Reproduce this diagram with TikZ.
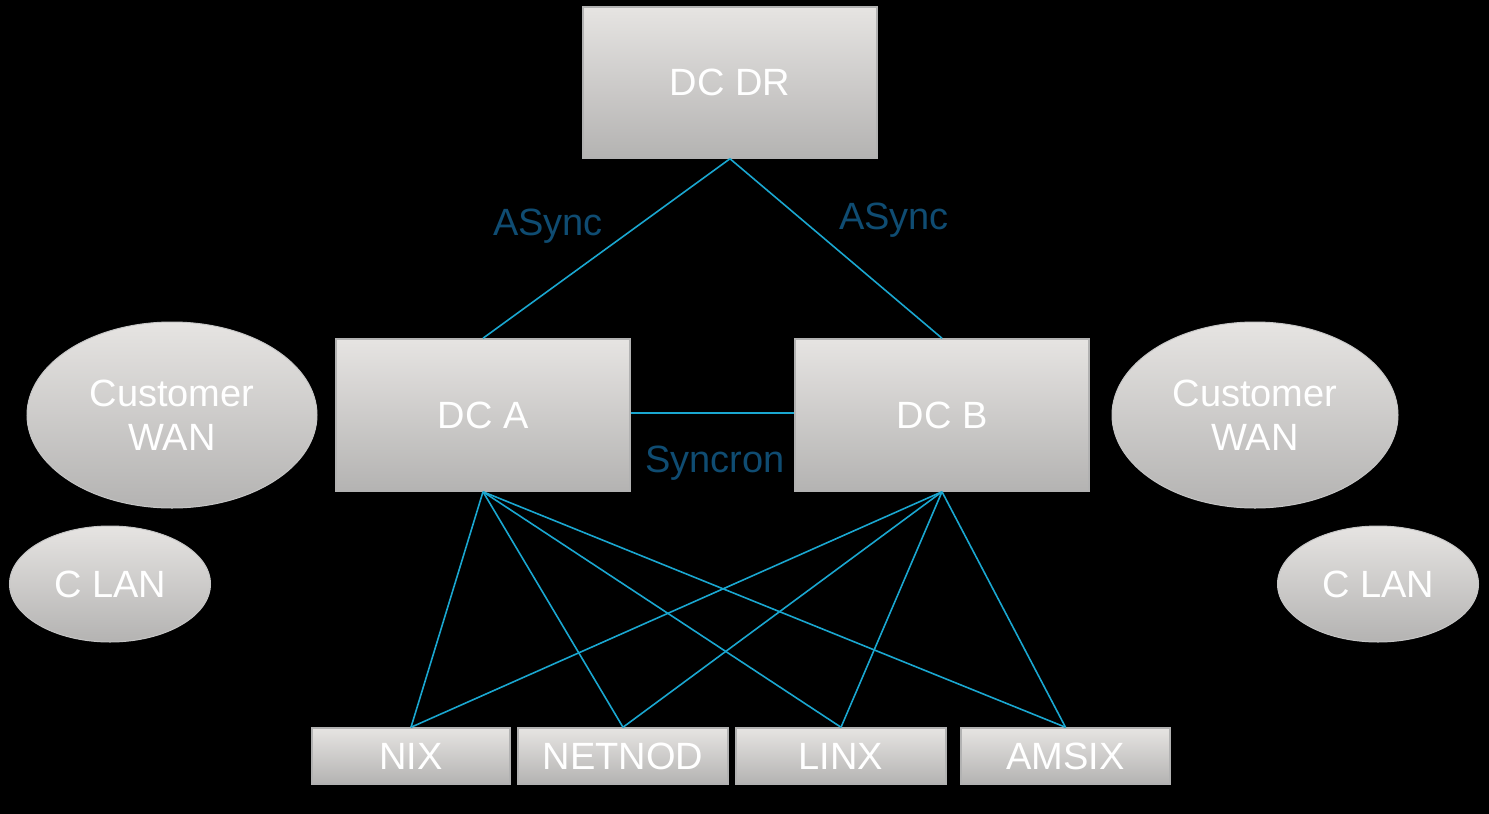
\documentclass[tikz,border=0pt]{standalone}
\usepackage{fontspec}
\setmainfont{Liberation Sans}
\usetikzlibrary{shapes.geometric}
\definecolor{link}{HTML}{1AA7D0}
\definecolor{lbl}{HTML}{0F4C72}
\definecolor{boxtop}{HTML}{E6E4E2}
\definecolor{boxbot}{HTML}{B4B3B2}
\tikzset{
  boxnode/.style={rectangle, inner sep=0pt, top color=boxtop, bottom color=boxbot, draw=gray!60, line width=1.5pt, text=white, font=\fontsize{38}{42}\selectfont},
  ovalnode/.style={ellipse, inner sep=0pt, top color=boxtop, bottom color=boxbot, draw=gray!45, line width=1pt, text=white, align=center, font=\fontsize{38}{44}\selectfont},
  conn/.style={draw=link, line width=1.6pt},
  lab/.style={text=lbl, font=\fontsize{38}{42}\selectfont, inner sep=0pt}
}
\begin{document}
\begin{tikzpicture}[x=1pt,y=-1pt]
\fill[black] (0,0) rectangle (1489,814);
\useasboundingbox (0,0) rectangle (1489,814);
% main boxes
\node[boxnode, minimum width=294pt, minimum height=151pt] (dr) at (730,82.5) {DC DR};
\node[boxnode, minimum width=294pt, minimum height=152pt] (a) at (483,415) {DC A};
\node[boxnode, minimum width=294pt, minimum height=152pt] (b) at (942,415) {DC B};
% ellipses
\node[ovalnode, minimum width=290pt, minimum height=186pt] (wl) at (172,415) {Customer\\WAN};
\node[ovalnode, minimum width=286pt, minimum height=186pt] (wr) at (1255,415) {Customer\\WAN};
\node[ovalnode, minimum width=201pt, minimum height=116pt] (ll) at (110,584) {C LAN};
\node[ovalnode, minimum width=201pt, minimum height=116pt] (lr) at (1378,584) {C LAN};
% exchanges
\node[boxnode, minimum width=198pt, minimum height=56pt] (nix) at (411,756) {NIX};
\node[boxnode, minimum width=210pt, minimum height=56pt] (netnod) at (623,756) {NETNOD};
\node[boxnode, minimum width=210pt, minimum height=56pt] (linx) at (841,756) {LINX};
\node[boxnode, minimum width=209pt, minimum height=56pt] (amsix) at (1065.5,756) {AMSIX};
% connectors
\draw[conn] (dr.south) -- (a.north);
\draw[conn] (dr.south) -- (b.north);
\draw[conn] (a.east |- 0,413) -- (b.west |- 0,413);
\foreach \t in {nix,netnod,linx,amsix}{
  \draw[conn] (a.south) -- (\t.north);
  \draw[conn] (b.south) -- (\t.north);
}
% labels
\node[lab] (l1) at (548,226) {ASync};
\node[lab] (l2) at (894,220) {ASync};
\node[lab] (l3) at (715,463) {Syncron};
\end{tikzpicture}
\end{document}
